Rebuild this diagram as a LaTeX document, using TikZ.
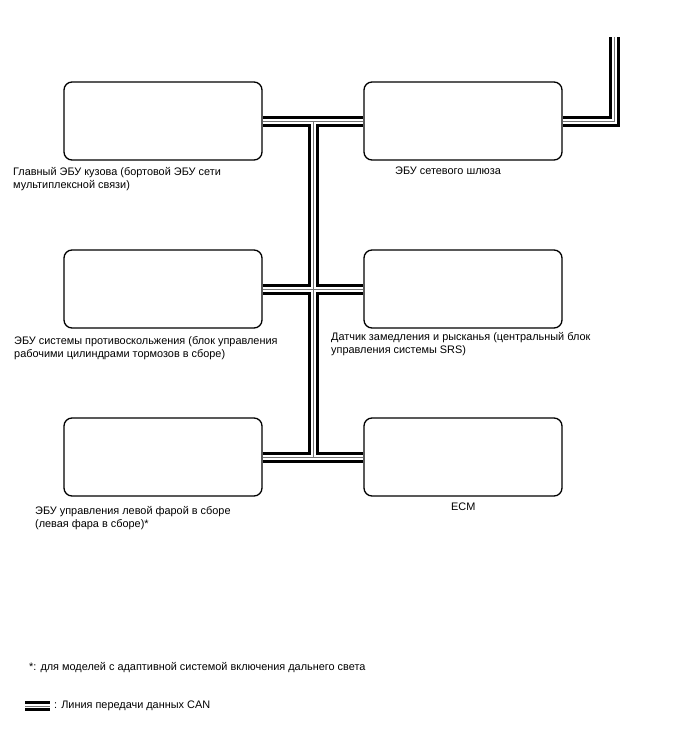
\documentclass[tikz,border=0pt]{standalone}
\usepackage{fontspec}
\setmainfont{Liberation Sans}
\usetikzlibrary{positioning}

\begin{document}
\begin{tikzpicture}[x=1pt, y=-1pt,
  ecu/.style={draw=black, line width=1.3pt, rounded corners=8pt,
    minimum width=198pt, minimum height=78pt, inner sep=0pt},
  lbl/.style={anchor=north west, align=left, inner sep=0pt,
    font=\fontsize{10.9}{13}\selectfont},
  busblack/.style={line width=11pt, black},
  buswhite/.style={line width=5pt, white},
  busgrey/.style={line width=0.8pt, black!55}
]
  \useasboundingbox (0,0) rectangle (688,755);
  % ECUs
  \node[ecu] (body) at (163,121) {};
  \node[ecu] (gw)   at (463,121) {};
  \node[ecu] (abs)  at (163,289) {};
  \node[ecu] (yaw)  at (463,289) {};
  \node[ecu] (hl)   at (163,457) {};
  \node[ecu] (ecm)  at (463,457) {};
  % bus points
  \coordinate (ttop) at (313,121);
  \coordinate (tbot) at (313,457);
  \coordinate (cut)  at (614,37);
  \coordinate (lg1)  at (25,706);
  \coordinate (lg2)  at (50,706);
  % CAN bus, drawn in layers
  \foreach \lay in {busblack,buswhite,busgrey}{
    \draw[\lay] (body.east) -- (gw.west);
    \draw[\lay] (abs.east) -- (yaw.west);
    \draw[\lay] (hl.east) -- (ecm.west);
    \draw[\lay] (ttop) -- (tbot);
    \draw[\lay] (gw.east) -| (cut);
  }
  \draw[line width=2.5pt] ([yshift=-3.5pt]lg1) -- ([yshift=-3.5pt]lg2);
  \draw[line width=2.5pt] ([yshift=3.5pt]lg1) -- ([yshift=3.5pt]lg2);
  \draw[line width=0.8pt, black!55] (lg1) -- (lg2);
  % labels
  \node[lbl] (tbody) at (13,167) {Главный ЭБУ кузова (бортовой ЭБУ сети\\мультиплексной связи)};
  \node[lbl] (tgw)   at (395,167) {ЭБУ сетевого шлюза};
  \node[lbl] (tabs)  at (14,336.5) {ЭБУ системы противоскольжения (блок управления\\рабочими цилиндрами тормозов в сборе)};
  \node[lbl] (tyaw)  at (331,332.5) {Датчик замедления и рысканья (центральный блок\\управления системы SRS)};
  \node[lbl] (thl)   at (35,506) {ЭБУ управления левой фарой в сборе\\(левая фара в сборе)*};
  \node[lbl] (tecm)  at (451,502.5) {ECM};
  \node[lbl] (note)  at (29,662) {*: для моделей с адаптивной системой включения дальнего света};
  \node[lbl, anchor=west, right=4pt of lg2] (tlg) {: Линия передачи данных CAN};
\end{tikzpicture}
\end{document}
